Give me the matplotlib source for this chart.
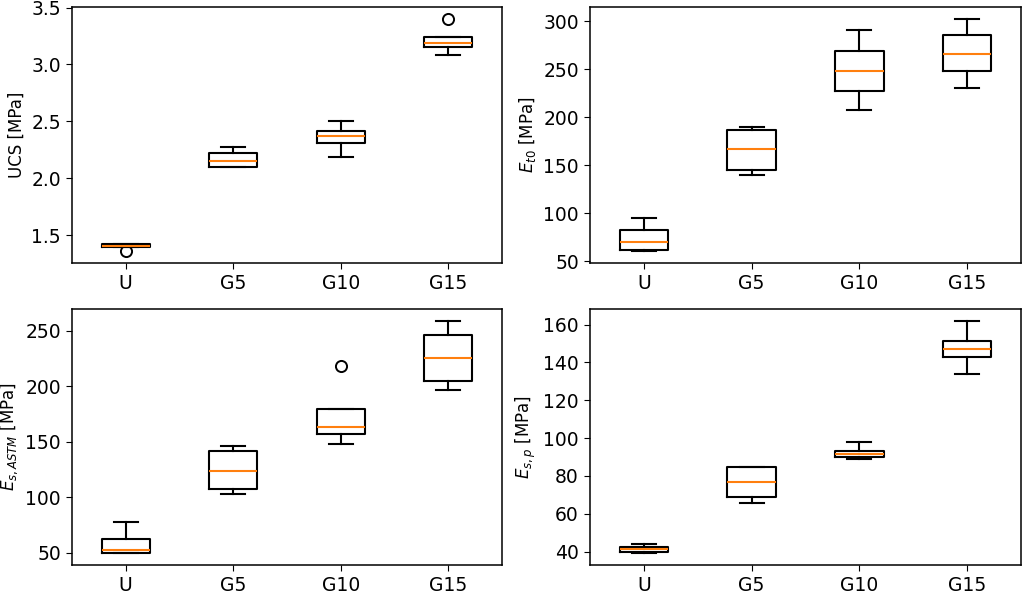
import matplotlib
matplotlib.use("Agg")
import matplotlib.pyplot as plt
from matplotlib.ticker import MultipleLocator

categories = ["U", "G5", "G10", "G15"]

# box statistics: (whislo, q1, med, q3, whishi, fliers)
ucs_whislo = [1.395, 2.102, 2.19, 3.082]
ucs_q1 = [1.395, 2.102, 2.313, 3.158]
ucs_med = [1.408, 2.152, 2.371, 3.187]
ucs_q3 = [1.420, 2.222, 2.412, 3.243]
ucs_whishi = [1.420, 2.275, 2.50, 3.243]
ucs_fliers = [[1.357], [], [], [3.403]]

et0_whislo = [60.4, 139.6, 207.3, 230.2]
et0_q1 = [61.8, 145.1, 227.8, 247.9]
et0_med = [70.1, 167.0, 248.6, 266.3]
et0_q3 = [82.6, 187.2, 269.4, 285.4]
et0_whishi = [94.8, 189.9, 291.3, 302.8]
et0_fliers = [[], [], [], []]

esa_whislo = [49.6, 102.7, 148.5, 197.2]
esa_q1 = [50.0, 107.2, 157.1, 205.0]
esa_med = [53.0, 123.7, 163.4, 225.4]
esa_q3 = [62.3, 141.4, 179.3, 246.1]
esa_whishi = [78.2, 145.9, 179.3, 259.3]
esa_fliers = [[], [], [218.3], []]

esp_whislo = [39.1, 65.9, 88.9, 133.9]
esp_q1 = [39.8, 68.9, 90.1, 142.9]
esp_med = [41.2, 76.8, 91.4, 147.3]
esp_q3 = [42.5, 84.6, 93.3, 151.4]
esp_whishi = [43.9, 84.8, 97.9, 162.1]
esp_fliers = [[], [], [], []]

ylabels = ["UCS [MPa]", r"$E_{t0}$ [MPa]", r"$E_{s,ASTM}$ [MPa]", r"$E_{s,p}$ [MPa]"]
ytick_steps = [0.5, 50, 50, 20]

panels = [
    (ucs_whislo, ucs_q1, ucs_med, ucs_q3, ucs_whishi, ucs_fliers),
    (et0_whislo, et0_q1, et0_med, et0_q3, et0_whishi, et0_fliers),
    (esa_whislo, esa_q1, esa_med, esa_q3, esa_whishi, esa_fliers),
    (esp_whislo, esp_q1, esp_med, esp_q3, esp_whishi, esp_fliers),
]

plt.rcParams['font.size'] = 13.5
plt.rcParams['axes.labelsize'] = 12
plt.rcParams['axes.linewidth'] = 1.1
plt.rcParams['xtick.major.size'] = 4.5
plt.rcParams['ytick.major.size'] = 4.5

W, H = 1024, 591
fig = plt.figure(figsize=(W / 100, H / 100), dpi=100)

rects = [
    (72, 7, 502, 263),
    (590, 7, 1021, 263),
    (72, 309, 502, 565),
    (590, 309, 1021, 565),
]

lw = 1.5
for (l, t, r, b), data, yl, step in zip(rects, panels, ylabels, ytick_steps):
    ax = fig.add_axes([l / W, 1 - b / H, (r - l) / W, (b - t) / H])
    wlo, q1, med, q3, whi, fl = data
    stats = []
    for i, c in enumerate(categories):
        stats.append(dict(label=c, whislo=wlo[i], q1=q1[i], med=med[i],
                          q3=q3[i], whishi=whi[i], fliers=fl[i]))
    ax.bxp(stats,
           boxprops=dict(linewidth=lw, color='black'),
           whiskerprops=dict(linewidth=lw, color='black'),
           capprops=dict(linewidth=lw, color='black'),
           medianprops=dict(linewidth=lw, color='#ff7f0e'),
           flierprops=dict(marker='o', markersize=8, markerfacecolor='none',
                           markeredgecolor='black', markeredgewidth=1.4))
    ax.yaxis.set_major_locator(MultipleLocator(step))
    ax.set_ylabel(yl)

fig.savefig("out.png", dpi=100)
